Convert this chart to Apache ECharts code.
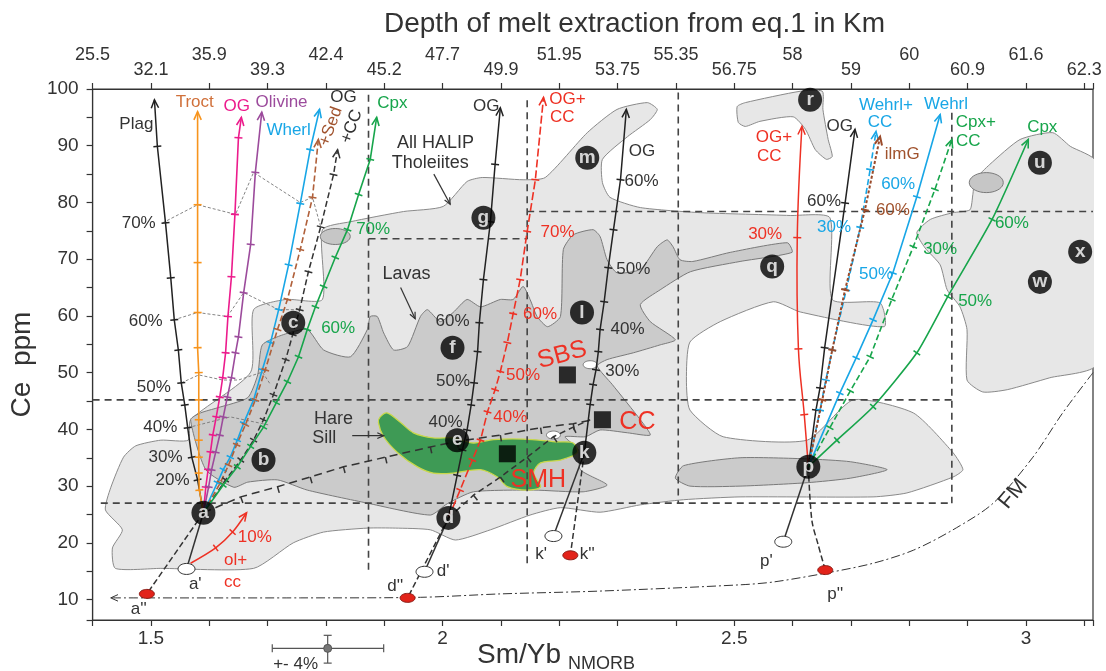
<!DOCTYPE html>
<html><head><meta charset="utf-8">
<script src="https://cdn.jsdelivr.net/npm/echarts@6/dist/echarts.min.js"></script>
<style>html,body{margin:0;padding:0;background:#fff}#c{width:1106px;height:671px}</style>
</head><body><div id="c"></div>
<script>
const FONT = '"Liberation Sans", Arial, sans-serif';

// ---------- axis labels ----------
const TOP_DEPTH = ['25.5','32.1','35.9','39.3','42.4','45.2','47.7','49.9','51.95','53.75','55.35','56.75','58','59','60','60.9','61.6','62.3'];
const X_TICK_LABELS = ['1.5','2','2.5','3'];

// ---------- fields ----------
const fieldTholeiite = [[1.453,35.1],[1.474,37.1],[1.517,38.1],[1.564,38.1],[1.568,41.7],[1.671,50.1],[1.676,61.1],[1.731,62.9],[1.794,62.9],[1.794,75.2],[1.842,76.6],[1.933,78.4],[2.001,79.3],[2.042,83.7],[2.068,84.4],[2.138,84.0],[2.176,84.4],[2.248,92.3],[2.299,96.4],[2.351,97.6],[2.368,96.4],[2.356,94.6],[2.317,91.6],[2.274,87.6],[2.274,83.5],[2.287,80.9],[2.339,79.1],[2.442,78.2],[2.596,77.7],[2.664,77.3],[2.668,62.9],[2.750,62.3],[2.757,58.1],[2.613,60.7],[2.567,62.5],[2.476,59.0],[2.424,55.4],[2.418,48.7],[2.424,43.4],[2.481,38.7],[2.625,38.1],[2.704,45.2],[2.807,42.9],[2.875,35.9],[2.892,32.9],[2.875,31.6],[2.796,28.8],[2.738,28.1],[2.510,28.1],[2.413,27.6],[2.339,26.7],[2.270,25.4],[2.202,26.2],[2.150,24.9],[2.082,22.3],[2.022,20.5],[1.979,22.3],[1.919,22.6],[1.871,22.6],[1.796,21.9],[1.744,20.0],[1.676,15.5],[1.517,15.5],[1.439,15.5],[1.434,19.1],[1.451,22.3],[1.422,25.8],[1.431,29.7]];
const fieldRight = [[2.813,74.7],[2.836,77.0],[2.875,78.2],[2.904,78.7],[2.909,81.4],[2.913,84.0],[2.938,86.7],[2.990,91.1],[3.046,92.3],[3.076,89.9],[3.120,87.2],[3.120,51.4],[3.041,49.1],[2.968,47.0],[2.926,46.6],[2.899,48.7],[2.899,57.6],[2.887,61.6],[2.865,64.6],[2.853,69.0],[2.827,72.0]];
const fieldTop = [[2.505,96.9],[2.519,97.6],[2.613,99.6],[2.651,99.6],[2.652,96.4],[2.661,91.1],[2.668,88.1],[2.658,87.6],[2.639,89.3],[2.622,92.9],[2.601,95.1],[2.544,94.3],[2.519,93.4],[2.507,94.1]];
const fieldLavas = [[1.568,41.7],[1.585,42.9],[1.614,43.8],[1.666,45.6],[1.683,49.6],[1.691,54.9],[1.727,56.7],[1.768,57.6],[1.796,54.0],[1.842,52.8],[1.871,57.6],[1.876,59.9],[1.888,59.9],[1.899,57.0],[1.916,54.0],[1.940,54.6],[1.962,59.9],[1.974,61.1],[1.996,59.0],[2.018,60.6],[2.042,62.9],[2.065,61.6],[2.099,62.9],[2.121,62.9],[2.138,65.2],[2.150,62.9],[2.162,59.9],[2.180,58.1],[2.202,59.9],[2.207,71.7],[2.224,74.3],[2.258,75.2],[2.270,74.0],[2.282,69.9],[2.299,67.6],[2.339,68.2],[2.368,72.2],[2.385,73.4],[2.395,72.2],[2.407,69.9],[2.429,69.6],[2.493,71.2],[2.591,72.9],[2.599,71.2],[2.510,69.6],[2.425,67.8],[2.373,64.6],[2.339,62.0],[2.356,59.0],[2.399,55.8],[2.373,54.9],[2.327,53.5],[2.282,52.3],[2.265,51.2],[2.291,47.9],[2.339,41.7],[2.356,39.0],[2.317,39.4],[2.270,39.9],[2.245,38.7],[2.210,38.7],[2.233,36.4],[2.236,32.9],[2.282,30.2],[2.241,29.0],[2.156,29.3],[2.053,29.0],[2.008,26.9],[1.979,24.9],[1.871,27.0],[1.768,29.3],[1.717,31.1],[1.666,30.7],[1.642,29.8],[1.594,32.9]];
const fieldDarkP = [[2.399,31.4],[2.413,33.6],[2.510,35.0],[2.625,34.8],[2.699,34.3],[2.762,32.9],[2.699,31.4],[2.625,30.6],[2.510,30.0],[2.424,30.0]];
const hareSill = [[1.893,42.2],[1.905,42.9],[1.928,41.2],[1.950,39.4],[1.984,38.5],[2.018,38.5],[2.053,37.6],[2.087,38.2],[2.138,38.3],[2.197,37.8],[2.224,37.6],[2.231,35.9],[2.202,34.6],[2.168,34.1],[2.156,32.3],[2.168,29.9],[2.145,29.3],[2.111,29.9],[2.094,31.6],[2.065,32.9],[2.018,32.3],[1.984,32.3],[1.957,33.4],[1.923,35.9],[1.899,38.7],[1.890,41.2]];
const blobsGray = [[1.816,74.0],[2.932,83.5]];
const blobsWhite = [[2.253,51.4],[2.190,39.0]];

// ---------- reference boxes ----------
const refDash = [
  [[1.414,27.0],[2.873,27.0]], [[1.400,45.2],[2.873,45.2]], [[2.145,78.4],[3.115,78.4]], [[1.873,73.6],[2.145,73.6]],
  [[1.873,99.0],[1.873,15.2]], [[2.145,98.0],[2.145,15.7]], [[2.404,99.4],[2.404,27.0]], [[2.873,95.8],[2.873,27.0]]
];

// ---------- melting / mixing trajectories ----------
const plagPts = [[1.590,25.3],[1.580,31.1],[1.570,35.1],[1.563,40.3],[1.558,44.3],[1.552,48.2],[1.547,54.0],[1.540,59.3],[1.534,66.7],[1.525,76.4],[1.511,89.9],[1.506,98.1]];
const troctPts = [[1.590,25.3],[1.583,29.3],[1.582,32.3],[1.582,35.1],[1.582,38.1],[1.582,41.7],[1.582,45.2],[1.582,50.0],[1.580,54.4],[1.580,60.6],[1.580,69.4],[1.580,79.6],[1.580,96.0]];
const ogMagPts = [[1.590,25.3],[1.594,29.8],[1.598,32.9],[1.602,36.0],[1.606,39.0],[1.612,42.2],[1.618,45.7],[1.623,49.1],[1.628,53.5],[1.632,59.9],[1.638,66.9],[1.644,77.9],[1.650,91.4],[1.655,95.0]];
const olivinePts = [[1.590,25.3],[1.599,29.9],[1.604,32.9],[1.611,36.0],[1.618,39.0],[1.624,42.2],[1.631,45.7],[1.638,49.1],[1.645,53.5],[1.650,56.3],[1.659,64.1],[1.671,72.6],[1.679,85.3],[1.690,95.9]];
const wherlPts = [[1.590,25.3],[1.614,30.6],[1.624,32.9],[1.636,35.1],[1.648,38.1],[1.659,41.1],[1.676,45.2],[1.691,50.5],[1.705,55.3],[1.719,61.1],[1.736,69.0],[1.756,79.8],[1.773,89.3],[1.789,96.4]];
const sedPts = [[1.590,25.3],[1.619,30.6],[1.633,33.7],[1.647,37.3],[1.662,40.8],[1.679,45.2],[1.696,50.5],[1.717,57.6],[1.734,62.9],[1.756,71.7],[1.777,80.9],[1.787,91.1]];
const ogccPts = [[1.590,25.3],[1.628,31.1],[1.654,34.6],[1.676,38.1],[1.693,41.7],[1.710,46.1],[1.731,52.3],[1.743,56.7],[1.755,61.1],[1.770,67.8],[1.791,75.7],[1.813,84.9],[1.820,89.3]];
const cpxAPts = [[1.590,25.3],[1.624,30.2],[1.648,33.4],[1.671,37.0],[1.693,40.4],[1.715,44.7],[1.734,48.4],[1.753,52.8],[1.768,57.6],[1.782,61.6],[1.796,65.2],[1.816,70.3],[1.837,75.2],[1.856,81.4],[1.876,87.6],[1.887,95.0]];
const dOgPts = [[2.010,24.4],[2.025,31.9],[2.034,36.4],[2.042,39.9],[2.049,44.3],[2.054,48.2],[2.060,53.7],[2.063,58.8],[2.070,66.4],[2.082,76.6],[2.090,86.7],[2.099,96.7]];
const dOgccPts = [[2.010,24.4],[2.030,29.3],[2.051,34.6],[2.065,38.1],[2.077,43.1],[2.090,47.0],[2.099,50.2],[2.111,55.3],[2.121,60.4],[2.133,66.4],[2.145,74.9],[2.159,84.0],[2.173,98.5]];
const kOgPts = [[2.243,35.9],[2.253,44.4],[2.258,47.9],[2.263,50.5],[2.267,53.7],[2.270,57.6],[2.277,62.5],[2.284,68.5],[2.293,75.2],[2.305,84.0],[2.315,96.4]];
const aCcPts = [[1.590,25.3],[1.654,28.1],[1.717,29.9],[1.773,31.6],[1.830,33.4],[1.902,35.1],[1.979,36.9],[2.025,37.9],[2.099,39.0],[2.168,40.3],[2.224,41.0],[2.258,41.7]];
const dCcPts = [[2.010,24.4],[2.053,28.4],[2.099,31.6],[2.145,35.1],[2.190,38.7],[2.224,40.4],[2.253,41.7]];
const pOgccPts = [[2.627,33.4],[2.620,42.6],[2.610,54.2],[2.608,73.8],[2.616,93.4]];
const pOgPts = [[2.627,33.4],[2.640,43.4],[2.647,47.3],[2.655,54.4],[2.690,79.9],[2.707,92.9]];
const pWehrlCcPts = [[2.627,33.4],[2.647,43.4],[2.657,48.7],[2.668,54.0],[2.692,64.6],[2.716,75.6],[2.733,85.8],[2.743,92.5]];
const pIlmPts = [[2.627,33.4],[2.651,45.2],[2.668,54.0],[2.690,64.6],[2.724,78.7],[2.750,91.6]];
const pWehrlPts = [[2.627,33.4],[2.681,46.4],[2.709,52.6],[2.738,59.3],[2.772,67.6],[2.813,81.0],[2.853,95.5]];
const pCpxCcPts = [[2.627,33.4],[2.664,40.3],[2.699,46.8],[2.733,52.8],[2.770,62.9],[2.807,72.2],[2.844,82.3],[2.873,91.1]];
const pCpxPts = [[2.627,33.4],[2.676,38.1],[2.738,44.0],[2.813,53.5],[2.866,63.4],[2.942,77.0],[3.004,91.1]];
const olccPts = [[1.568,16.4],[1.611,19.1],[1.640,21.9],[1.664,25.3]];
const primeSolid = [
  [[1.590,25.3],[1.561,15.4]], [[2.010,24.4],[1.969,14.9]], [[2.243,35.9],[2.190,21.2]], [[2.627,33.4],[2.584,20.2]]
];
const primeDashed = [
  [[1.590,25.3],[1.493,11.0]], [[2.010,24.4],[1.940,10.3]], [[2.243,35.9],[2.219,17.8]], [[2.627,33.4],[2.633,24.0],[2.644,19.6],[2.656,15.2]]
];
const fmPts = [[3.115,50.0],[3.063,42.9],[3.012,35.1],[2.944,27.0],[2.875,22.3],[2.807,18.7],[2.738,16.4],[2.659,14.7],[2.567,13.1],[2.510,12.6],[2.270,11.5],[2.099,11.0],[1.962,10.4],[1.756,10.3],[1.431,10.3]];
const iso70 = [[1.520,76.4],[1.580,79.6],[1.645,77.9],[1.676,85.3],[1.756,80.0],[1.777,80.9],[1.791,75.7]];
const iso60 = [[1.539,59.3],[1.580,60.6],[1.631,59.9],[1.659,64.1],[1.719,61.1],[1.755,61.1]];
const iso50 = [[1.552,48.2],[1.582,49.6],[1.623,48.7],[1.650,48.7],[1.691,50.1],[1.705,47.9]];
const iso40 = [[1.563,40.3],[1.636,42.2],[1.701,40.8]];
const pointers = [ [[1.985,85.0],[2.013,79.7]], [[1.928,65.0],[1.953,59.5]], [[1.845,38.9],[1.899,38.9]] ];

// ---------- samples ----------
const samples = [['a',1.590,25.3],['b',1.693,34.6],['c',1.744,58.8],['d',2.010,24.4],['e',2.025,38.1],['f',2.017,54.4],['g',2.070,77.3],['k',2.243,35.9],['l',2.239,60.6],['m',2.248,87.9],['p',2.627,33.4],['q',2.565,68.7],['r',2.630,98.1],['u',3.024,87.0],['w',3.024,66.0],['x',3.093,71.3]];
const contaminants = [['SBS',2.214,49.6],['CC',2.274,41.7],['SMH',2.111,35.7]];
const sourcesWhite = [[1.561,15.4],[1.969,14.9],[2.190,21.2],[2.584,20.2]];
const sourcesRed = [[1.493,11.0],[1.940,10.3],[2.219,17.8],[2.656,15.2]];
const errCenter = [1.803,1.4], errX = [1.708,1.899], errY = [-1.2,3.7];

// ---------- annotation text ----------
const txtDark = [['Plag',1.475,93.7],['OG',1.830,98.5],['OG',2.075,96.9],['OG',2.342,89.0],['OG',2.681,93.4],
  ['70%',1.479,76.4],['60%',1.491,59.0],['50%',1.505,47.5],['40%',1.516,40.3],['30%',1.525,35.0],['20%',1.537,31.1],
  ['60%',2.017,59.0],['50%',2.018,48.4],['40%',2.005,41.2],
  ['60%',2.341,83.7],['50%',2.327,68.2],['40%',2.317,57.6],['30%',2.308,50.2],['60%',2.654,80.2],
  ["a'",1.576,12.7],["a''",1.479,8.2],["d'",2.001,14.9],["d''",1.919,12.4],["k'",2.169,17.9],["k''",2.248,17.9],["p'",2.555,16.8],["p''",2.673,11.0]];
const txtField = [['All HALIP',1.988,90.5],['Tholeiites',1.979,87.0],['Lavas',1.938,67.4],['Hare',1.813,41.9],['Sill',1.797,38.5]];
const txtRed = [['70%',2.197,74.7],['60%',2.167,60.2],['50%',2.138,49.6],['40%',2.116,42.2],['OG+',2.214,98.1],['CC',2.205,95.0],['10%',1.678,21.0],['ol+',1.645,17.0],['cc',1.640,13.1],['OG+',2.568,91.4],['CC',2.560,88.1],['30%',2.553,74.3]];
const txtRedBig = [['CC',2.334,41.3],['SMH',2.164,31.0]];
const txtRedTilt = [['SBS',2.205,53.1]];
const txtGreen = [['Cpx',1.914,97.4],['70%',1.881,75.2],['60%',1.821,57.9],['Cpx+',2.914,94.1],['CC',2.901,90.7],['Cpx',3.028,93.2],['30%',2.853,71.7],['60%',2.976,76.4],['50%',2.913,62.5]];
const txtBlue = [['Wherl',1.736,92.7],['Wehrl+',2.760,97.1],['CC',2.750,94.1],['Wehrl',2.863,97.3],['60%',2.781,83.2],['30%',2.671,75.6],['50%',2.743,67.4]];
const txtBrown = [['ilmG',2.788,88.4],['60%',2.772,78.7]];
const txtSed = [['+Sed',1.808,93.4]];
const txtPlusCC = [['+CC',1.844,93.4]];
const txtTroct = [['Troct',1.575,97.6]];
const txtOgMag = [['OG',1.647,96.9]];
const txtOlivine = [['Olivine',1.724,97.6]];
const txtFM = [['FM',2.978,28.6]];
const txtErr = [['+- 4%',1.748,-1.4]];

// ---------- helpers ----------
function polyLayer(polys, style, z, smooth) {
  return { type:'custom', coordinateSystem:'cartesian2d', encode:{x:0,y:1}, silent:true, z, clip:true,
    data: polys.map(p => p[0]),
    renderItem(params, api) {
      const pts = polys[params.dataIndex].map(q => api.coord(q));
      return { type:'polygon', shape:{ points:pts, smooth: smooth || 0 }, style: Object.assign({}, style) };
    } };
}
function ellipseLayer(centers, rx, ry, style, z) {
  return { type:'custom', coordinateSystem:'cartesian2d', encode:{x:0,y:1}, silent:true, z, clip:false,
    data: centers,
    renderItem(params, api) {
      const c = api.coord(centers[params.dataIndex]); const pts = [];
      for (let k = 0; k < 36; k++) { const t = k / 36 * 2 * Math.PI; pts.push([c[0] + rx * Math.cos(t), c[1] + ry * Math.sin(t)]); }
      return { type:'polygon', shape:{ points:pts }, style: Object.assign({}, style) };
    } };
}
function arrowHead(from, tip, st, size) {
  const ang = Math.atan2(tip[1] - from[1], tip[0] - from[0]);
  const a1 = ang + Math.PI - 0.42, a2 = ang + Math.PI + 0.42;
  return { type:'polyline', shape:{ points:[[tip[0] + size * Math.cos(a1), tip[1] + size * Math.sin(a1)], tip, [tip[0] + size * Math.cos(a2), tip[1] + size * Math.sin(a2)]] },
    style: Object.assign({}, st, { lineDash:null }) };
}
function track(pts, o) {
  return { type:'custom', coordinateSystem:'cartesian2d', encode:{x:0,y:1}, silent:true, z: o.z || 6, clip:false,
    data: pts,
    renderItem(params, api) {
      const i = params.dataIndex, n = pts.length;
      const P = pts.map(p => api.coord(p));
      const st = { stroke:o.color, lineWidth:o.width || 1.4, fill:null };
      const kids = [];
      if (i === 0) kids.push({ type:'polyline', shape:{ points:P, smooth:o.smooth || 0 }, style:Object.assign({ lineDash:o.dash || null }, st) });
      if (i === n - 1 && o.arrow) kids.push(arrowHead(P[n - 2], P[n - 1], st, o.arrowSize || 9));
      if (o.ticks && i > 0 && i < n - 1) {
        const a = P[i - 1], b = P[i + 1];
        let dx = b[0] - a[0], dy = b[1] - a[1]; const L = Math.hypot(dx, dy) || 1; dx /= L; dy /= L;
        const nx = -dy, ny = dx, h = o.tickLen || 4, side = o.tickSide || 0;
        const s0 = side === 0 ? -h : 0, s1 = side === 0 ? h : side * 1.6 * h;
        kids.push({ type:'line', shape:{ x1:P[i][0] + nx * s0, y1:P[i][1] + ny * s0, x2:P[i][0] + nx * s1, y2:P[i][1] + ny * s1 }, style:Object.assign({}, st, { lineDash:null }) });
      }
      return { type:'group', children:kids };
    } };
}
function textLayer(items, style, rot, z) {
  return { type:'custom', coordinateSystem:'cartesian2d', encode:{x:0,y:1}, silent:true, z: z || 9, clip:false,
    data: items.map(t => [t[1], t[2]]),
    renderItem(params, api) {
      const t = items[params.dataIndex]; const c = api.coord([t[1], t[2]]);
      return { type:'text', x:c[0], y:c[1], rotation:(rot || 0) * Math.PI / 180,
        style: Object.assign({ text:t[0], align:'center', verticalAlign:'middle', fontFamily:FONT, fontSize:17, fill:'#333' }, style) };
    } };
}

const RED = '#ee3124', GREEN = '#17a54b', BLUE = '#18a6e6', BROWN = '#b0603a', DARK = '#222';
const series = [];
// fields
series.push(polyLayer([fieldTholeiite, fieldRight, fieldTop], { fill:'#e7e7e7', stroke:'#8a8a8a', lineWidth:1 }, 1, 0.2));
series.push(polyLayer([fieldLavas, fieldDarkP], { fill:'#cbcbcb', stroke:'#7a7a7a', lineWidth:1 }, 2, 0.2));
series.push(polyLayer([hareSill], { fill:'#3e9a55', stroke:'#c9d84b', lineWidth:1.3 }, 3, 0.3));
series.push(ellipseLayer([blobsGray[0]], 15, 8, { fill:'#c6c6c6', stroke:'#7a7a7a', lineWidth:1 }, 3));
series.push(ellipseLayer([blobsGray[1]], 17, 10, { fill:'#c6c6c6', stroke:'#7a7a7a', lineWidth:1 }, 3));
series.push(ellipseLayer(blobsWhite, 7, 4, { fill:'#fff', stroke:'#7a7a7a', lineWidth:1 }, 3));
// reference boxes
refDash.forEach(s => series.push(track(s, { color:'#444', width:1.6, dash:[7,5], z:4 })));
// isopleth connectors
[iso70, iso60, iso50, iso40].forEach(s => series.push(track(s, { color:'#777', width:0.9, dash:[3,2], z:5 })));
// trajectories from a
series.push(track(plagPts, { color:DARK, width:1.5, ticks:true, arrow:true }));
series.push(track(troctPts, { color:'#f7941d', width:1.6, ticks:true, arrow:true }));
series.push(track(ogMagPts, { color:'#ec1b8c', width:1.6, ticks:true, arrow:true }));
series.push(track(olivinePts, { color:'#9c4b9c', width:1.6, ticks:true, arrow:true }));
series.push(track(wherlPts, { color:BLUE, width:1.6, ticks:true, arrow:true }));
series.push(track(sedPts, { color:BROWN, width:1.6, dash:[6,3], ticks:true, arrow:true }));
series.push(track(ogccPts, { color:'#333', width:1.5, dash:[6,3], ticks:true, arrow:true }));
series.push(track(cpxAPts, { color:GREEN, width:1.6, ticks:true, arrow:true }));
series.push(track(aCcPts, { color:'#333', width:1.5, dash:[8,5], ticks:true, tickSide:1 }));
series.push(track(olccPts, { color:RED, width:1.5, ticks:true, arrow:true, smooth:0.3 }));
// from d and k
series.push(track(dOgPts, { color:DARK, width:1.5, ticks:true, arrow:true }));
series.push(track(dOgccPts, { color:RED, width:1.6, dash:[8,3], ticks:true, arrow:true }));
series.push(track(dCcPts, { color:'#333', width:1.5, dash:[6,4], ticks:true, tickSide:1 }));
series.push(track(kOgPts, { color:DARK, width:1.5, ticks:true, arrow:true }));
// from p
series.push(track(pOgccPts, { color:RED, width:1.5, ticks:true, arrow:true, smooth:0.4 }));
series.push(track(pOgPts, { color:DARK, width:1.5, ticks:true, arrow:true }));
series.push(track(pWehrlCcPts, { color:BLUE, width:1.6, dash:[6,3], ticks:true, arrow:true }));
series.push(track(pIlmPts, { color:'#9a4a2a', width:2, dash:[3,2], ticks:true, arrow:true }));
series.push(track(pWehrlPts, { color:BLUE, width:1.6, ticks:true, arrow:true }));
series.push(track(pCpxCcPts, { color:GREEN, width:1.6, dash:[6,3], ticks:true, arrow:true }));
series.push(track(pCpxPts, { color:GREEN, width:1.6, ticks:true, arrow:true, smooth:0.2 }));
// source links
primeSolid.forEach(s => series.push(track(s, { color:'#333', width:1.5 })));
primeDashed.forEach(s => series.push(track(s, { color:'#333', width:1.5, dash:[6,3], smooth:0.3 })));
// FM curve
series.push(track(fmPts, { color:'#333', width:1, dash:[9,3,2,3], arrow:true, arrowSize:8, smooth:0.3 }));
// pointers
pointers.forEach(s => series.push(track(s, { color:'#333', width:1.2, arrow:true, arrowSize:7 })));
// error bar
series.push({ type:'custom', coordinateSystem:'cartesian2d', encode:{x:0,y:1}, silent:true, z:6, clip:false, data:[errCenter],
  renderItem(params, api) {
    const c = api.coord(errCenter), l = api.coord([errX[0], errCenter[1]]), r = api.coord([errX[1], errCenter[1]]);
    const t = api.coord([errCenter[0], errY[1]]), b = api.coord([errCenter[0], errY[0]]);
    const st = { stroke:'#555', lineWidth:1.2 };
    return { type:'group', children:[
      { type:'line', shape:{ x1:l[0], y1:l[1], x2:r[0], y2:r[1] }, style:st },
      { type:'line', shape:{ x1:l[0], y1:l[1] - 4, x2:l[0], y2:l[1] + 4 }, style:st },
      { type:'line', shape:{ x1:r[0], y1:r[1] - 4, x2:r[0], y2:r[1] + 4 }, style:st },
      { type:'line', shape:{ x1:t[0], y1:t[1], x2:b[0], y2:b[1] }, style:st },
      { type:'line', shape:{ x1:t[0] - 4, y1:t[1], x2:t[0] + 4, y2:t[1] }, style:st },
      { type:'line', shape:{ x1:b[0] - 4, y1:b[1], x2:b[0] + 4, y2:b[1] }, style:st },
      { type:'circle', shape:{ cx:c[0], cy:c[1], r:4 }, style:{ fill:'#777', stroke:'#555' } } ] };
  } });
// source ellipses
series.push(ellipseLayer(sourcesWhite, 8.5, 5.5, { fill:'#fff', stroke:'#333', lineWidth:1 }, 7));
series.push(ellipseLayer(sourcesRed, 7.5, 4.5, { fill:'#e2231a', stroke:'#8a1a14', lineWidth:1 }, 7));
// samples
series.push({ type:'scatter', z:8, silent:true, symbol:'circle', symbolSize:24,
  data: samples.map(s => ({ name:s[0], value:[s[1], s[2]] })),
  itemStyle:{ color:'#000' },
  label:{ show:true, position:'inside', formatter:p => p.name, color:'#fff', fontSize:19, fontWeight:'bold', fontFamily:FONT } });
series.push({ type:'scatter', z:8, silent:true, symbol:'rect', symbolSize:17,
  data: contaminants.map(s => ({ name:s[0], value:[s[1], s[2]] })), itemStyle:{ color:'#000' } });
// text
series.push(textLayer(txtDark, { fill:'#333' }));
series.push(textLayer(txtField, { fill:'#333', fontSize:18 }));
series.push(textLayer(txtRed, { fill:RED }));
series.push(textLayer(txtRedBig, { fill:RED, fontSize:25 }));
series.push(textLayer(txtRedTilt, { fill:RED, fontSize:25 }, 15));
series.push(textLayer(txtGreen, { fill:GREEN }));
series.push(textLayer(txtBlue, { fill:BLUE }));
series.push(textLayer(txtBrown, { fill:'#a0522d' }));
series.push(textLayer(txtSed, { fill:'#a0522d' }, 70));
series.push(textLayer(txtPlusCC, { fill:'#333' }, 70));
series.push(textLayer(txtTroct, { fill:'#d0703a' }));
series.push(textLayer(txtOgMag, { fill:'#ec1b8c' }));
series.push(textLayer(txtOlivine, { fill:'#9c4b9c' }));
series.push(textLayer(txtFM, { fill:'#333', fontSize:22 }, 50));
series.push(textLayer(txtErr, { fill:'#333', fontSize:17 }));

const axisCommon = { axisLine:{ show:true, onZero:false, lineStyle:{ color:'#333', width:1.2 } },
  axisTick:{ show:true, length:6, lineStyle:{ color:'#333', width:1.2 } }, splitLine:{ show:false } };

const option = {
  animation:false,
  backgroundColor:'#fff',
  title:[
    { text:'Depth of melt extraction from eq.1 in Km', left:379, top:5, textStyle:{ fontSize:28, fontWeight:'normal', color:'#333', fontFamily:FONT } },
    { text:'Sm/Yb', left:472, top:636, textStyle:{ fontSize:28, fontWeight:'normal', color:'#333', fontFamily:FONT } },
    { text:'NMORB', left:563, top:650, textStyle:{ fontSize:18, fontWeight:'normal', color:'#333', fontFamily:FONT } }
  ],
  grid:{ left:92, right:13, top:89, bottom:51, show:true, borderColor:'#333', borderWidth:1.2, backgroundColor:'transparent' },
  xAxis:[
    Object.assign({ type:'value', min:1.4, max:3.115, interval:0.1, position:'bottom',
      axisLabel:{ margin:9, fontSize:19, color:'#333', fontFamily:FONT,
        formatter:v => { const r = String(Math.round(v * 10) / 10); return (Math.abs(v * 10 - Math.round(v * 10)) < 1e-6 && X_TICK_LABELS.includes(r)) ? r : ''; } } }, axisCommon),
    Object.assign({ type:'value', min:1.4, max:3.115, interval:0.1, position:'top',
      axisLabel:{ margin:11, fontSize:18, lineHeight:15, color:'#333', fontFamily:FONT,
        formatter:v => { const i = Math.round((v - 1.4) * 10); if (i < 0 || i >= TOP_DEPTH.length || Math.abs(v - 1.4 - i * 0.1) > 1e-6) return ''; return i % 2 === 0 ? TOP_DEPTH[i] + '\n ' : ' \n' + TOP_DEPTH[i]; } } }, axisCommon)
  ],
  yAxis: Object.assign({ type:'value', min:6.4, max:100, splitNumber:19,
    name:'Ce  ppm', nameLocation:'middle', nameGap:47, nameRotate:90,
    nameTextStyle:{ fontSize:28, color:'#333', fontFamily:FONT, padding:[0,20,0,0] },
    axisLabel:{ margin:14, fontSize:19, color:'#333', fontFamily:FONT,
      formatter:v => (Math.abs(v / 10 - Math.round(v / 10)) < 1e-6 ? String(Math.round(v)) : '') } }, axisCommon),
  series
};
const chart = echarts.init(document.getElementById('c'), null, { renderer:'canvas' });
chart.setOption(option);
</script></body></html>
